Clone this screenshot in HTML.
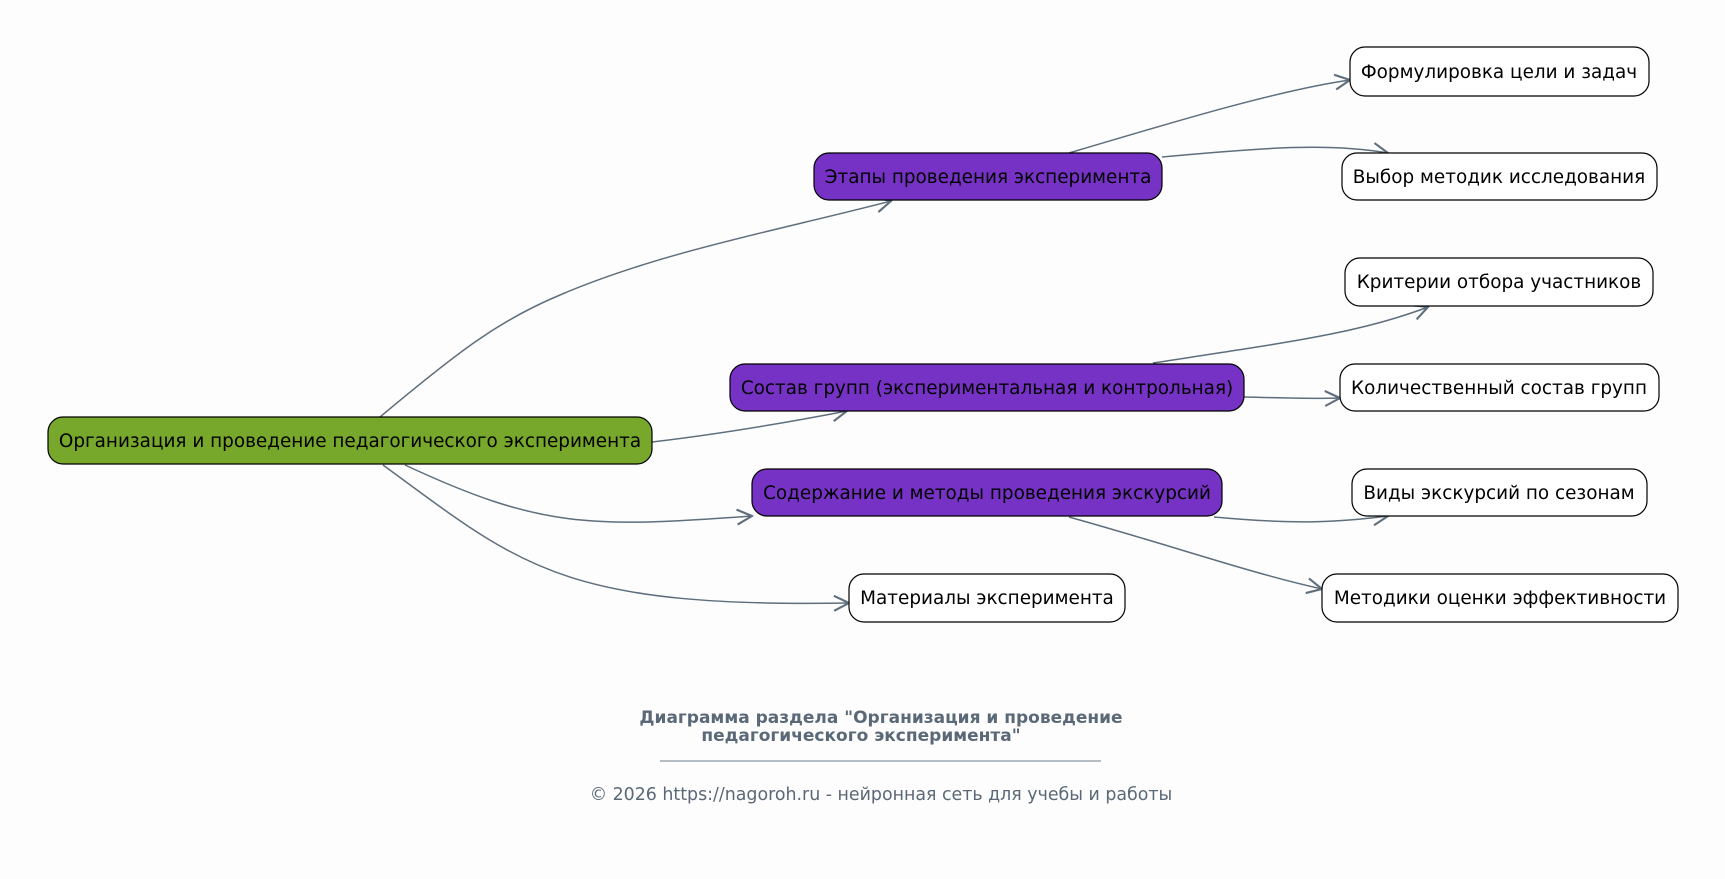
<!DOCTYPE html>
<html><head><meta charset="utf-8"><style>
html,body{margin:0;padding:0;background:#fdfdfd;}
svg{display:block;}
text{font-family:"DejaVu Sans","Liberation Sans",sans-serif;}
</style></head><body>
<svg width="1725" height="879" viewBox="0 0 1725 879" xmlns="http://www.w3.org/2000/svg">
<defs>
<marker id="a" viewBox="0 0 12 12" refX="11" refY="6" markerWidth="18" markerHeight="18" markerUnits="userSpaceOnUse" orient="auto">
<path d="M1,1 L11,6 L1,11" fill="none" stroke="#5f6e7c" stroke-width="1.4"/>
</marker>
</defs>
<rect width="1725" height="879" fill="#fdfdfd"/>
<g fill="none" stroke="#5f6e7c" stroke-width="1.5" marker-end="url(#a)">
<path d="M380,417 C460,350 500,320 560,295 C660,252 780,230 891,201"/>
<path d="M652,442 C720,434 790,422 847,411"/>
<path d="M405,465 C540,528 590,528 752,516"/>
<path d="M383,465 C520,565 560,608 849,603"/>
<path d="M1069,153 C1180,120 1280,90 1350,80"/>
<path d="M1162,157 C1270,147 1330,143 1388,153"/>
<path d="M1153,363 C1290,342 1360,333 1428,307"/>
<path d="M1244,397 C1290,398 1310,399 1340,398"/>
<path d="M1214,517 C1300,525 1340,522 1388,516"/>
<path d="M1069,517 C1180,548 1250,573 1322,589"/>
</g>
<g stroke="#000" stroke-width="1.2">
<rect x="48" y="417" width="604" height="47" rx="15" fill="#78a82b"/>
<rect x="814" y="153" width="348" height="47" rx="15" fill="#7632c4"/>
<rect x="730" y="364" width="514" height="47" rx="15" fill="#7632c4"/>
<rect x="752" y="469" width="470" height="47" rx="15" fill="#7632c4"/>
<rect x="849" y="574" width="276" height="48" rx="15" fill="#fff"/>
<rect x="1350" y="47" width="299" height="49" rx="15" fill="#fff"/>
<rect x="1342" y="153" width="315" height="47" rx="15" fill="#fff"/>
<rect x="1345" y="258" width="308" height="48" rx="15" fill="#fff"/>
<rect x="1340" y="364" width="319" height="47" rx="15" fill="#fff"/>
<rect x="1352" y="469" width="295" height="47" rx="15" fill="#fff"/>
<rect x="1322" y="574" width="356" height="48" rx="15" fill="#fff"/>
</g>
<g font-size="18.4" fill="#000" text-anchor="middle">
<text x="350" y="447">Организация и проведение педагогического эксперимента</text>
<text x="988" y="183">Этапы проведения эксперимента</text>
<text x="987" y="394">Состав групп (экспериментальная и контрольная)</text>
<text x="987" y="499">Содержание и методы проведения экскурсий</text>
<text x="987" y="604">Материалы эксперимента</text>
<text x="1499" y="78">Формулировка цели и задач</text>
<text x="1499" y="183">Выбор методик исследования</text>
<text x="1499" y="288">Критерии отбора участников</text>
<text x="1499" y="394">Количественный состав групп</text>
<text x="1499" y="499">Виды экскурсий по сезонам</text>
<text x="1500" y="604">Методики оценки эффективности</text>
</g>
<g fill="#5a6877" text-anchor="middle">
<text x="881" y="723" font-size="17" font-weight="bold">Диаграмма раздела "Организация и проведение</text>
<text x="861" y="741" font-size="17" font-weight="bold">педагогического эксперимента"</text>
<line x1="660" y1="761" x2="1101" y2="761" stroke="#8a97a4" stroke-width="1.2"/>
<text x="881" y="800" font-size="17.4">© 2026 https://nagoroh.ru - нейронная сеть для учебы и работы</text>
</g>
</svg>
</body></html>
